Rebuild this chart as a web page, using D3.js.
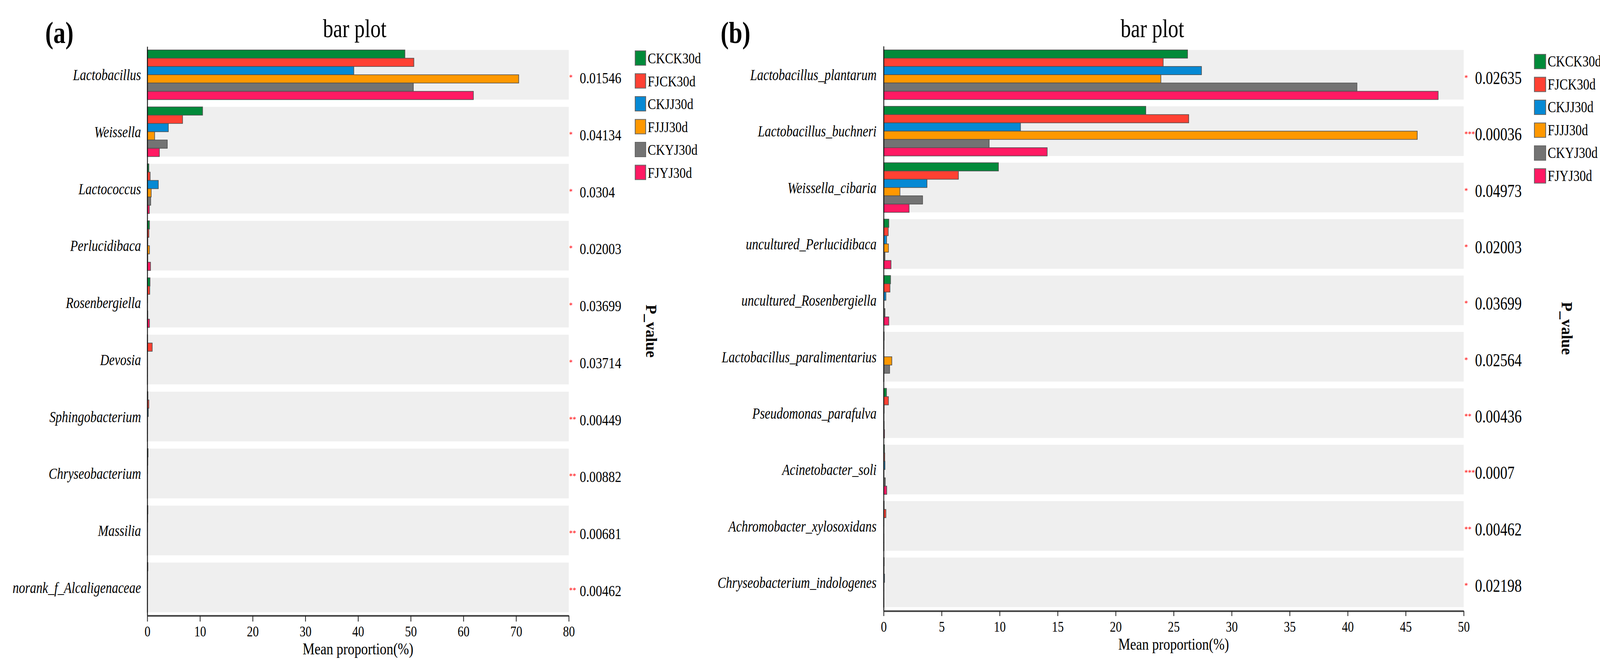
<!DOCTYPE html>
<html>
<head>
<meta charset="utf-8">
<script src="https://cdn.jsdelivr.net/npm/d3@7"></script>
<style>
  body { margin: 0; background: #fff; }
  svg { display: block; }
</style>
</head>
<body>
<script>
var width = 4156,
    height = 1714;

// groups + colours
var groups = ["CKCK30d", "FJCK30d", "CKJJ30d", "FJJJ30d", "CKYJ30d", "FJYJ30d"];
var colors = ["#028a3a", "#ff4133", "#0689d4", "#ff9800", "#737373", "#ff1a63"];

// panel (a) - genus
var taxaA = ["Lactobacillus", "Weissella", "Lactococcus", "Perlucidibaca", "Rosenbergiella",
             "Devosia", "Sphingobacterium", "Chryseobacterium", "Massilia", "norank_f_Alcaligenaceae"];
var pvalA = ["0.01546", "0.04134", "0.0304", "0.02003", "0.03699", "0.03714", "0.00449", "0.00882", "0.00681", "0.00462"];
var starsA = ["*", "*", "*", "*", "*", "*", "**", "**", "**", "**"];
var a_CKCK30d = [48.9, 10.5, 0.3, 0.42, 0.52, 0.05, 0.12, 0.15, 0.12, 0.12];
var a_FJCK30d = [50.6, 6.7, 0.55, 0.31, 0.47, 0.94, 0.3, 0.1, 0.08, 0.05];
var a_CKJJ30d = [39.2, 4.0, 2.1, 0.1, 0.05, 0.02, 0.2, 0.05, 0.03, 0.03];
var a_FJJJ30d = [70.5, 1.4, 0.75, 0.42, 0.02, 0.02, 0.03, 0.02, 0.02, 0.02];
var a_CKYJ30d = [50.5, 3.8, 0.65, 0.1, 0.1, 0.03, 0.03, 0.02, 0.02, 0.02];
var a_FJYJ30d = [61.9, 2.3, 0.4, 0.62, 0.42, 0.02, 0.02, 0.02, 0.02, 0.02];
var ticksA = [0, 10, 20, 30, 40, 50, 60, 70, 80];

// panel (b) - species
var taxaB = ["Lactobacillus_plantarum", "Lactobacillus_buchneri", "Weissella_cibaria", "uncultured_Perlucidibaca",
             "uncultured_Rosenbergiella", "Lactobacillus_paralimentarius", "Pseudomonas_parafulva",
             "Acinetobacter_soli", "Achromobacter_xylosoxidans", "Chryseobacterium_indologenes"];
var pvalB = ["0.02635", "0.00036", "0.04973", "0.02003", "0.03699", "0.02564", "0.00436", "0.0007", "0.00462", "0.02198"];
var starsB = ["*", "***", "*", "*", "*", "*", "**", "***", "**", "*"];
var b_CKCK30d = [26.2, 22.6, 9.9, 0.45, 0.6, 0.05, 0.25, 0.08, 0.05, 0.05];
var b_FJCK30d = [24.1, 26.3, 6.45, 0.4, 0.55, 0.03, 0.42, 0.1, 0.2, 0.03];
var b_CKJJ30d = [27.4, 11.8, 3.74, 0.26, 0.2, 0.02, 0.05, 0.12, 0.03, 0.08];
var b_FJJJ30d = [23.9, 46.0, 1.41, 0.42, 0.02, 0.71, 0.03, 0.03, 0.02, 0.02];
var b_CKYJ30d = [40.8, 9.1, 3.36, 0.12, 0.12, 0.52, 0.05, 0.15, 0.03, 0.02];
var b_FJYJ30d = [47.8, 14.1, 2.2, 0.64, 0.45, 0.02, 0.08, 0.27, 0.03, 0.02];
var ticksB = [0, 5, 10, 15, 20, 25, 30, 35, 40, 45, 50];

var font = "'Liberation Serif', 'Times New Roman', Times, serif";
var sx = 0.8; // the reference type is narrow

var svg = d3.select("body").append("svg")
    .attr("width", width)
    .attr("height", height)
    .style("font-family", font);

function ctext(g, x, y, str, size, anchor, k) {
  return g.append("text")
      .attr("transform", "translate(" + x + "," + y + ") scale(" + (k || sx) + ",1)")
      .attr("text-anchor", anchor || "start")
      .attr("font-size", size)
      .text(str);
}

drawPanel({
  tag: "(a)", tagX: 152,
  taxa: taxaA, pvals: pvalA, stars: starsA, ticks: ticksA,
  series: [a_CKCK30d, a_FJCK30d, a_CKJJ30d, a_FJJJ30d, a_CKYJ30d, a_FJYJ30d],
  x0: 377, x1: 1456, xmax: 80,
  y0: 119, y1: 1575, pi: 0.128, po: 0.06,
  labelGap: 16, starX: 1457, starDy: 14, pX: 1484, pSize: 41, pDy: 22,
  legX: 1626, legY: 130, legStep: 58.5, swW: 27, swH: 37, legTx: 1658, legSize: 38, legK: 0.84, legDy: 32,
  pTitleX: 1668, pTitleY: 847,
  titleX: 908, tickLen: 15, tickPad: 11, labelY: 1674
});

drawPanel({
  tag: "(b)", tagX: 1883,
  taxa: taxaB, pvals: pvalB, stars: starsB, ticks: ticksB,
  series: [b_CKCK30d, b_FJCK30d, b_CKJJ30d, b_FJJJ30d, b_CKYJ30d, b_FJYJ30d],
  x0: 2262, x1: 3747, xmax: 50,
  y0: 118, y1: 1563, pi: 0.12, po: 0.067,
  labelGap: 18, starX: 3749, starDy: 15, pX: 3776, pSize: 46, pDy: 24,
  legX: 3928, legY: 139, legStep: 58.5, swW: 29, swH: 37, legTx: 3962, legSize: 40, legK: 0.8, legDy: 31,
  pTitleX: 4012, pTitleY: 840,
  titleX: 2950, tickLen: 13, tickPad: 13, labelY: 1662
});

function drawPanel(c) {
  var g = svg.append("g");

  var x = d3.scaleLinear().domain([0, c.xmax]).range([c.x0, c.x1]);
  var y = d3.scaleBand().domain(c.taxa).range([c.y0, c.y1])
      .paddingInner(c.pi).paddingOuter(c.po);
  var yi = d3.scaleBand().domain(groups).range([0, y.bandwidth()]).padding(0);

  // grey bands
  g.append("g").selectAll("rect")
    .data(c.taxa)
    .join("rect")
      .attr("x", c.x0)
      .attr("y", function(d) { return y(d); })
      .attr("width", c.x1 - c.x0)
      .attr("height", y.bandwidth())
      .attr("fill", "#efefef");

  // bars
  var cells = [];
  c.taxa.forEach(function(t, i) {
    groups.forEach(function(gr, j) {
      cells.push({taxon: t, group: gr, value: c.series[j][i], color: colors[j]});
    });
  });
  g.append("g").selectAll("rect")
    .data(cells)
    .join("rect")
      .attr("x", x(0))
      .attr("y", function(d) { return y(d.taxon) + yi(d.group); })
      .attr("width", function(d) { return x(d.value) - x(0); })
      .attr("height", yi.bandwidth())
      .attr("fill", function(d) { return d.color; })
      .attr("stroke", "#505050")
      .attr("stroke-width", 1.6);

  // y axis with italic names
  var ya = g.append("g")
      .attr("transform", "translate(" + c.x0 + ",0)")
      .call(d3.axisLeft(y).tickSize(0).tickPadding(0).tickSizeOuter(0));
  ya.select(".domain").attr("stroke", "#111").attr("stroke-width", 2.2);
  ya.selectAll(".tick text")
      .attr("x", -c.labelGap / sx)
      .attr("dy", "0.35em")
      .attr("transform", "scale(" + sx + ",1)")
      .attr("font-family", font)
      .attr("font-style", "italic")
      .attr("font-size", 40)
      .attr("fill", "#000");

  // x axis
  var xa = g.append("g")
      .attr("transform", "translate(0," + c.y1 + ")")
      .call(d3.axisBottom(x).tickValues(c.ticks).tickSize(c.tickLen).tickPadding(c.tickPad).tickSizeOuter(0));
  xa.select(".domain").attr("stroke", "#3a3a3a").attr("stroke-width", 4);
  xa.selectAll(".tick line").attr("stroke", "#222").attr("stroke-width", 2);
  xa.selectAll(".tick text")
      .attr("transform", "scale(" + sx + ",1)")
      .attr("font-family", font)
      .attr("font-size", 38)
      .attr("fill", "#000");

  ctext(g, (c.x0 + c.x1) / 2, c.labelY, "Mean proportion(%)", 43, "middle");

  // p values + stars
  c.taxa.forEach(function(t, i) {
    var cy = y(t) + y.bandwidth() / 2;
    ctext(g, c.starX, cy + c.starDy, c.stars[i], 20, "start", 0.9).attr("fill", "#ff0000");
    ctext(g, c.pX, cy + c.pDy, c.pvals[i], c.pSize, "start");
  });

  g.append("text")
      .attr("transform", "translate(" + c.pTitleX + "," + c.pTitleY + ") rotate(90)")
      .attr("text-anchor", "middle")
      .attr("dy", "0.35em")
      .attr("font-size", 40)
      .attr("font-weight", "bold")
      .text("P_value");

  // legend
  var leg = g.append("g").selectAll("g")
    .data(groups)
    .join("g")
      .attr("transform", function(d, i) { return "translate(0," + (c.legY + i * c.legStep) + ")"; });
  leg.append("rect")
      .attr("x", c.legX)
      .attr("width", c.swW)
      .attr("height", c.swH)
      .attr("fill", function(d, i) { return colors[i]; })
      .attr("stroke", "#666")
      .attr("stroke-width", 2);
  leg.append("text")
      .attr("transform", "translate(" + c.legTx + "," + c.legDy + ") scale(" + c.legK + ",1)")
      .attr("font-size", c.legSize)
      .text(function(d) { return d; });

  // titles
  ctext(g, c.titleX, 95, "bar plot", 66, "middle");
  ctext(g, c.tagX, 110, c.tag, 78, "middle").attr("font-weight", "bold");
}
</script>
</body>
</html>
